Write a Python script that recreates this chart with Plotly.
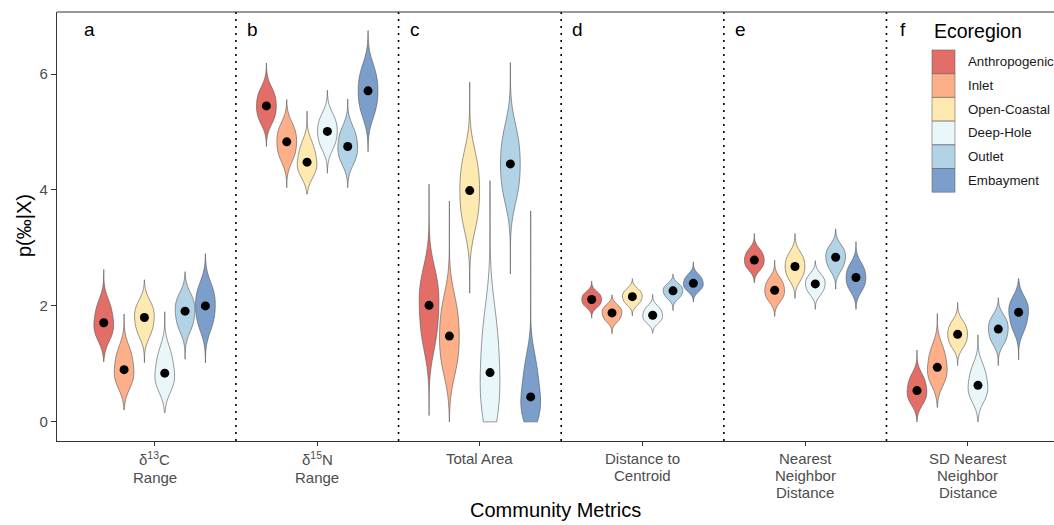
import plotly.graph_objects as go

# ---------------- data ----------------
metric_lines = [["δ<sup>13</sup>C", "Range"], ["δ<sup>15</sup>N", "Range"], ["Total Area"],
                ["Distance to", "Centroid"], ["Nearest", "Neighbor", "Distance"],
                ["SD Nearest", "Neighbor", "Distance"]]
panel_letters = ["a", "b", "c", "d", "e", "f"]
ecoregions = ["Anthropogenic", "Inlet", "Open-Coastal", "Deep-Hole", "Outlet", "Embayment"]
colors = ["rgba(215,48,39,0.7)", "rgba(252,141,89,0.7)", "rgba(254,224,144,0.7)",
          "rgba(224,243,248,0.7)", "rgba(145,191,219,0.7)", "rgba(69,117,180,0.7)"]

# posterior summaries per ecoregion: [q10, q25, q50, q75, q90]
d13c_q = [[1.47, 1.585, 1.71, 1.88, 2.04], [0.65, 0.77, 0.90, 1.08, 1.24],
          [1.52, 1.655, 1.80, 1.92, 2.03], [0.60, 0.71, 0.84, 1.04, 1.22],
          [1.615, 1.755, 1.91, 2.04, 2.15], [1.65, 1.82, 2.00, 2.17, 2.32]]
d13c_tails = [[1.04, 2.63], [0.21, 1.86], [1.02, 2.45], [0.16, 1.90], [1.08, 2.59], [1.02, 2.90]]
d13c_dot = [1.71, 0.90, 1.80, 0.84, 1.91, 2.00]

d15n_q = [[5.20, 5.32, 5.45, 5.59, 5.71], [4.55, 4.68, 4.83, 4.97, 5.09],
          [4.28, 4.38, 4.48, 4.64, 4.79], [4.75, 4.88, 5.01, 5.14, 5.26],
          [4.50, 4.62, 4.75, 4.90, 5.04], [5.34, 5.515, 5.71, 5.90, 6.08]]
d15n_tails = [[4.75, 6.19], [4.04, 5.56], [3.93, 5.36], [4.29, 5.72], [4.04, 5.57], [4.66, 6.75]]
d15n_dot = [5.45, 4.83, 4.48, 5.01, 4.75, 5.71]

area_q = [[1.37, 1.675, 2.01, 2.28, 2.52], [0.94, 1.20, 1.48, 1.78, 2.06],
          [3.44, 3.70, 3.99, 4.28, 4.54], [0.15, 0.40, 0.85, 1.30, 1.80],
          [3.91, 4.17, 4.45, 4.73, 5.00], [0.10, 0.22, 0.43, 0.72, 1.05]]
area_tails = [[0.11, 4.10], [0.0, 3.81], [2.22, 5.86], [0.0, 4.16], [2.55, 6.20], [0.0, 3.64]]
area_dot = [2.01, 1.48, 3.99, 0.85, 4.45, 0.43]

cent_q = [[2.00, 2.05, 2.11, 2.17, 2.22], [1.75, 1.81, 1.88, 1.94, 1.99],
          [2.04, 2.10, 2.16, 2.22, 2.27], [1.73, 1.78, 1.84, 1.91, 1.97],
          [2.14, 2.20, 2.26, 2.31, 2.36], [2.28, 2.33, 2.39, 2.46, 2.52]]
cent_tails = [[1.79, 2.43], [1.52, 2.19], [1.83, 2.47], [1.53, 2.20], [1.92, 2.55], [2.07, 2.76]]
cent_dot = [2.11, 1.88, 2.16, 1.84, 2.26, 2.39]

nnd_q = [[2.65, 2.72, 2.79, 2.88, 2.95], [2.11, 2.19, 2.27, 2.37, 2.45],
         [2.48, 2.58, 2.68, 2.79, 2.88], [2.22, 2.30, 2.38, 2.45, 2.52],
         [2.64, 2.74, 2.84, 2.93, 3.01], [2.29, 2.39, 2.49, 2.60, 2.70]]
nnd_tails = [[2.40, 3.25], [1.82, 2.79], [2.13, 3.25], [1.94, 2.78], [2.29, 3.33], [1.94, 3.11]]
nnd_dot = [2.79, 2.27, 2.68, 2.38, 2.84, 2.49]

sdnnd_q = [[0.35, 0.44, 0.54, 0.67, 0.78], [0.70, 0.81, 0.94, 1.11, 1.27],
           [1.32, 1.41, 1.51, 1.61, 1.70], [0.41, 0.51, 0.63, 0.79, 0.94],
           [1.38, 1.48, 1.60, 1.70, 1.79], [1.60, 1.74, 1.89, 2.00, 2.10]]
sdnnd_tails = [[0.0, 1.24], [0.25, 1.87], [0.97, 2.06], [0.0, 1.50], [0.97, 2.14], [1.07, 2.47]]
sdnnd_dot = [0.54, 0.94, 1.51, 0.63, 1.60, 1.89]

metric_q = [d13c_q, d15n_q, area_q, cent_q, nnd_q, sdnnd_q]
metric_tails = [d13c_tails, d15n_tails, area_tails, cent_tails, nnd_tails, sdnnd_tails]
metric_dot = [d13c_dot, d15n_dot, area_dot, cent_dot, nnd_dot, sdnnd_dot]

# ---------------- figure ----------------
FONT = "Liberation Sans, Arial, Helvetica, sans-serif"
n_metrics = len(metric_lines)
dodge = 0.75 / len(ecoregions)
offsets = [(j - (len(ecoregions) - 1) / 2) * dodge for j in range(len(ecoregions))]

fig = go.Figure()
dot_x, dot_y = [], []
for i in range(n_metrics):
    for j, eco in enumerate(ecoregions):
        pos = i + offsets[j]
        vals = metric_q[i][j]
        fig.add_trace(go.Violin(
            x=[pos] * len(vals), y=vals, name=eco, legendgroup=eco,
            showlegend=False, width=dodge * 0.97,
            spanmode="manual", span=metric_tails[i][j],
            fillcolor=colors[j], line=dict(color="#555555", width=0.6),
            points=False, box_visible=False, meanline_visible=False,
            hoverinfo="skip", scalemode="width",
        ))
        dot_x.append(pos)
        dot_y.append(metric_dot[i][j])

fig.add_trace(go.Scatter(x=dot_x, y=dot_y, mode="markers",
                         marker=dict(color="black", size=9), showlegend=False,
                         hoverinfo="skip"))

shapes = []
for i in range(n_metrics - 1):
    shapes.append(dict(type="line", xref="x", yref="paper", x0=i + 0.5, x1=i + 0.5,
                       y0=0, y1=1, line=dict(color="black", width=1.6, dash="2px,5px")))
shapes.append(dict(type="line", xref="paper", yref="paper", x0=0, x1=1, y0=1, y1=1,
                   line=dict(color="#333333", width=1.1)))

annotations = []
for i, letter in enumerate(panel_letters):
    annotations.append(dict(x=i - 0.40, y=6.76, xref="x", yref="y", text=letter,
                            showarrow=False, font=dict(family=FONT, size=19, color="black")))

# plot-area geometry (pixels) used to place legend / labels
L, R, T, B = 57, 1054, 12, 441
pw, ph = R - L, B - T
def px(x):
    return (x - L) / pw
def py(y):
    return (B - y) / ph

# x tick labels, one text per line (ggplot-like tight line height)
for i, lines in enumerate(metric_lines):
    y_pix = 459
    for k, line in enumerate(lines):
        annotations.append(dict(x=i, y=py(y_pix), xref="x", yref="paper", text=line,
                                showarrow=False, xanchor="center", yanchor="middle",
                                font=dict(family=FONT, size=15, color="#4d4d4d")))
        y_pix += 18.5 if "<sup>" in line else 16.5

annotations.append(dict(x=px(932), y=py(31), xref="paper", yref="paper", text="Ecoregion",
                        xanchor="left", yanchor="middle", showarrow=False,
                        font=dict(family=FONT, size=19.5, color="black")))
key_h = 23.7
for j, eco in enumerate(ecoregions):
    top = 50 + key_h * j
    shapes.append(dict(type="rect", xref="paper", yref="paper",
                       x0=px(932), x1=px(955), y0=py(top + key_h), y1=py(top),
                       fillcolor=colors[j], line=dict(color="#666666", width=0.6)))
    annotations.append(dict(x=px(966), y=py(top + key_h / 2), xref="paper", yref="paper",
                            text=eco, xanchor="left", yanchor="middle", showarrow=False,
                            font=dict(family=FONT, size=13.3, color="#1a1a1a")))

annotations.append(dict(x=0.5, y=py(510), xref="paper", yref="paper",
                        text="Community Metrics", showarrow=False,
                        xanchor="center", yanchor="middle",
                        font=dict(family=FONT, size=20, color="black")))
annotations.append(dict(x=px(24), y=py(226), xref="paper", yref="paper",
                        text="p(‰|X)", showarrow=False, textangle=-90,
                        xanchor="center", yanchor="middle",
                        font=dict(family=FONT, size=20, color="black")))

fig.update_layout(
    width=1054, height=525,
    margin=dict(l=L, r=1054 - R, t=T, b=525 - B),
    plot_bgcolor="white", paper_bgcolor="white",
    showlegend=False, violinmode="overlay",
    font=dict(family=FONT),
    shapes=shapes, annotations=annotations,
    xaxis=dict(range=[-0.6, 5.53], tickmode="array",
               tickvals=list(range(n_metrics)), showticklabels=False,
               ticks="outside", ticklen=4, tickcolor="#333333",
               showline=True, linecolor="#333333", linewidth=1.1,
               showgrid=False, zeroline=False),
    yaxis=dict(range=[-0.33, 7.07], tickvals=[0, 2, 4, 6],
               ticks="outside", ticklen=5, tickcolor="#333333",
               showline=True, linecolor="#333333", linewidth=1.1,
               showgrid=False, zeroline=False,
               tickfont=dict(family=FONT, size=15, color="#4d4d4d")),
)

fig.write_html("out.html", config={"displayModeBar": False},
               post_script="document.body.style.margin='0';document.body.style.overflow='hidden';")
